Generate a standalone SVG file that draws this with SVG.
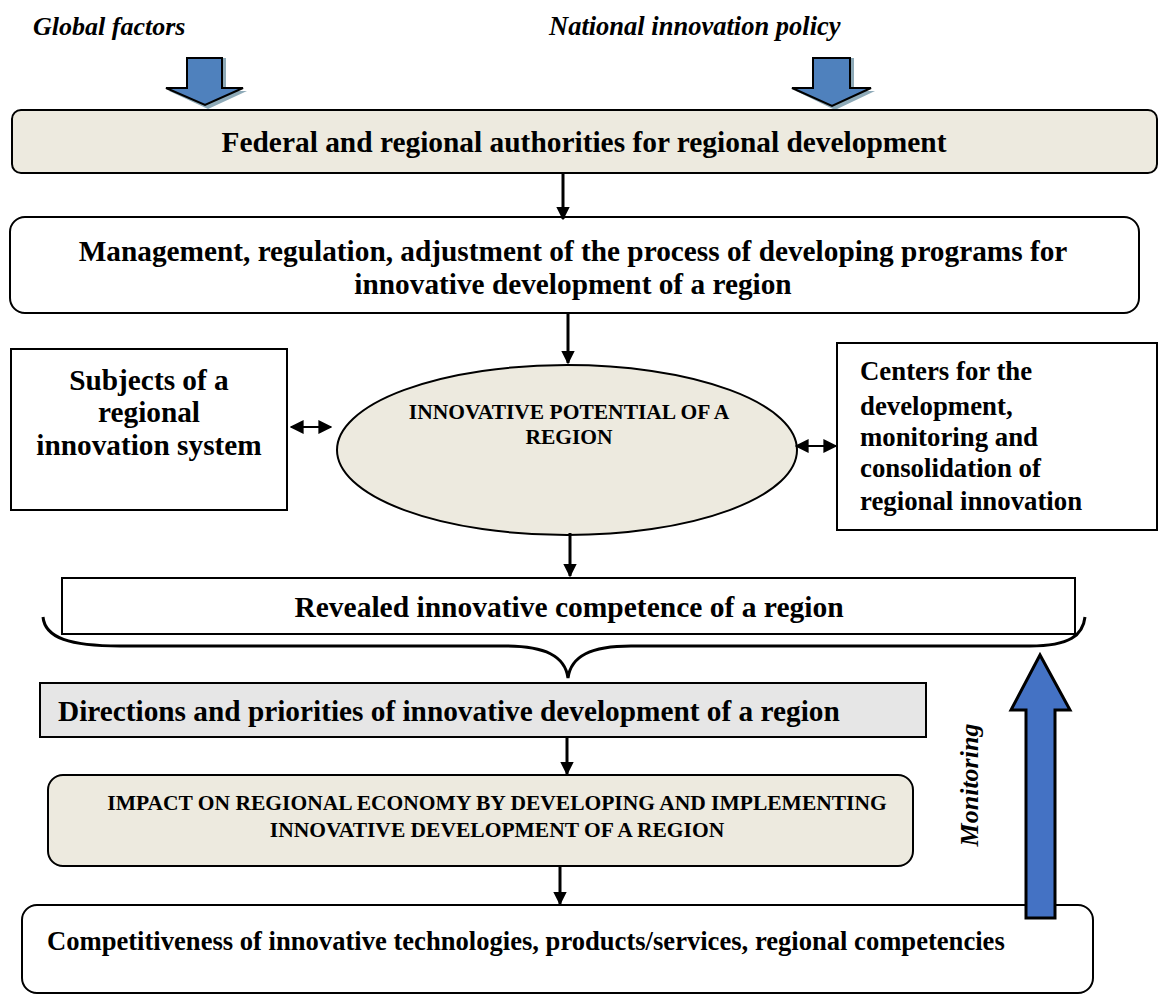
<svg xmlns="http://www.w3.org/2000/svg" width="1163" height="995" viewBox="0 0 1163 995">
<defs>
<style>
.t{font-family:"Liberation Serif","Times New Roman",serif;font-weight:bold;fill:#000}
.it{font-style:italic}
.box{stroke:#000;stroke-width:2}
.beige{fill:#EDEADF}
.white{fill:#fff}
.gray{fill:#E6E6E6}
.con{stroke:#000;stroke-width:3;fill:none}
.dbl{stroke:#000;stroke-width:2;fill:none}
.blue{fill:#4F81BD;stroke:#000;stroke-width:2;stroke-linejoin:miter}
.shadow{fill:#8EAAB8}
</style>
<marker id="ah" viewBox="0 0 10 10" refX="9" refY="5" markerWidth="4.5" markerHeight="4.5" orient="auto" markerUnits="strokeWidth">
<path d="M0,0 L10,5 L0,10 z" fill="#000"/>
</marker>
<marker id="ah2" viewBox="0 0 10 10" refX="9" refY="5" markerWidth="7" markerHeight="7" orient="auto-start-reverse" markerUnits="strokeWidth">
<path d="M0,0 L10,5 L0,10 z" fill="#000"/>
</marker>
</defs>
<rect width="1163" height="995" fill="#fff"/>

<g id="label-global">
<text class="t it" x="33" y="35" font-size="26">Global factors</text>
</g>
<g id="label-national">
<text class="t it" x="549" y="35" font-size="26.5">National innovation policy</text>
</g>

<g id="arrow-global">
<polygon class="shadow" points="190,58 226,58 226,91 247,91 208,109 169,91 190,91"/>
<polygon class="blue" points="187,58 222,58 222,88 243,88 205,105 166,88 187,88"/>
</g>
<g id="arrow-national">
<polygon class="shadow" points="816,58 854,58 854,91 875,91 835,110 796,91 816,91"/>
<polygon class="blue" points="813,58 850,58 850,88 871,88 832,106 792,88 813,88"/>
</g>

<g id="node-federal">
<rect class="box beige" x="12" y="110" width="1145" height="63" rx="9"/>
<text class="t" x="584" y="152" font-size="29.4" text-anchor="middle">Federal and regional authorities for regional development</text>
</g>

<g id="node-management">
<rect class="box white" x="10" y="217" width="1129" height="96" rx="15"/>
<text class="t" x="573" y="261" font-size="29.3" text-anchor="middle">Management, regulation, adjustment of the process of developing programs for</text>
<text class="t" x="573" y="294" font-size="29.3" text-anchor="middle">innovative development of a region</text>
</g>

<g id="node-subjects">
<rect class="box white" x="11" y="349" width="276" height="161"/>
<text class="t" x="149" y="390" font-size="29.3" text-anchor="middle">Subjects of a</text>
<text class="t" x="149" y="422" font-size="29.3" text-anchor="middle">regional</text>
<text class="t" x="149" y="455" font-size="29.3" text-anchor="middle">innovation system</text>
</g>

<g id="node-potential">
<ellipse class="box beige" cx="567" cy="450" rx="230" ry="85"/>
<text class="t" x="569" y="419" font-size="21.5" text-anchor="middle">INNOVATIVE POTENTIAL OF A</text>
<text class="t" x="569" y="444" font-size="21.5" text-anchor="middle">REGION</text>
</g>

<g id="node-centers">
<rect class="box white" x="837" y="343" width="320" height="187"/>
<text class="t" x="860" y="380" font-size="26.8">Centers for the</text>
<text class="t" x="860" y="415" font-size="26.8">development,</text>
<text class="t" x="860" y="446" font-size="26.8">monitoring and</text>
<text class="t" x="860" y="477" font-size="26.8">consolidation of</text>
<text class="t" x="860" y="510" font-size="26.8">regional innovation</text>
</g>

<g id="node-revealed">
<rect class="box white" x="62" y="578" width="1013" height="56"/>
<text class="t" x="569" y="617" font-size="29.5" text-anchor="middle">Revealed innovative competence of a region</text>
</g>

<g id="brace">
<path class="con" d="M43,617 C45,638 70,646 120,646 L505,646 C545,646 565,656 568,678 C571,656 591,646 631,646 L1030,646 C1070,646 1083,635 1085,617"/>
</g>

<g id="node-directions">
<rect class="box gray" x="40" y="683" width="886" height="54"/>
<text class="t" x="58" y="721" font-size="29.3">Directions and priorities of innovative development of a region</text>
</g>

<g id="node-impact">
<rect class="box beige" x="48" y="775" width="865" height="91" rx="15"/>
<text class="t" x="497" y="810" font-size="21.5" text-anchor="middle">IMPACT ON REGIONAL ECONOMY BY DEVELOPING AND IMPLEMENTING</text>
<text class="t" x="497" y="837" font-size="21.5" text-anchor="middle">INNOVATIVE DEVELOPMENT OF A REGION</text>
</g>

<g id="node-competitiveness">
<rect class="box white" x="22" y="905" width="1071" height="88" rx="15"/>
<text class="t" x="47" y="950" font-size="26.6">Competitiveness of innovative technologies, products/services, regional competencies</text>
</g>

<g id="connectors">
<line class="con" x1="563" y1="173" x2="563" y2="219" marker-end="url(#ah)"/>
<line class="con" x1="568" y1="313" x2="568" y2="363" marker-end="url(#ah)"/>
<line class="con" x1="570" y1="533" x2="570" y2="576" marker-end="url(#ah)"/>
<line class="con" x1="567" y1="737" x2="567" y2="774" marker-end="url(#ah)"/>
<line class="con" x1="560" y1="866" x2="560" y2="904" marker-end="url(#ah)"/>
<line class="dbl" x1="291" y1="427" x2="331" y2="427" marker-start="url(#ah2)" marker-end="url(#ah2)"/>
<line class="dbl" x1="796" y1="446" x2="836" y2="446" marker-start="url(#ah2)" marker-end="url(#ah2)"/>
</g>

<g id="arrow-monitoring">
<polygon points="1026,918 1055,918 1055,710 1070,710 1040,655 1011,710 1026,710" fill="#4472C4" stroke="#000" stroke-width="3"/>
</g>
<g id="label-monitoring">
<text class="t it" transform="translate(978,785) rotate(-90)" font-size="26" text-anchor="middle">Monitoring</text>
</g>
</svg>
